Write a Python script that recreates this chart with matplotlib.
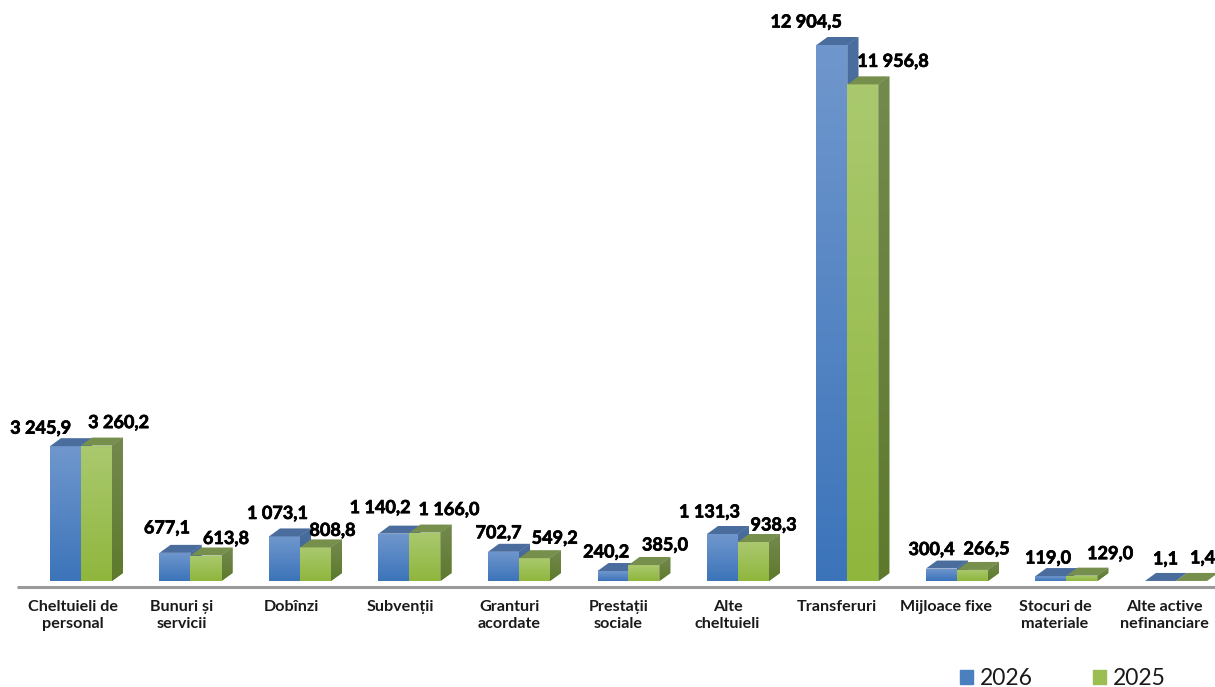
import numpy as np
import matplotlib.pyplot as plt
import matplotlib.patheffects as pe
from matplotlib.patches import Patch, Polygon

plt.rcParams["font.family"] = ["Lato", "DejaVu Sans"]

# -----------------------------
# Data
# -----------------------------
categories = [
    "Cheltuieli de\npersonal", "Bunuri și\nservicii", "Dobînzi", "Subvenții",
    "Granturi\nacordate", "Prestații\nsociale", "Alte\ncheltuieli",
    "Transferuri", "Mijloace fixe", "Stocuri de\nmateriale",
    "Alte active\nnefinanciare",
]
values_2026 = [3245.9, 677.1, 1073.1, 1140.2, 702.7, 240.2, 1131.3, 12904.5, 300.4, 119.0, 1.1]
values_2025 = [3260.2, 613.8, 808.8, 1166.0, 549.2, 385.0, 938.3, 11956.8, 266.5, 129.0, 1.4]

# label offsets from the top centre of each bar, in pixels
offsets_2026 = [(-25, 18), (-8, 25), (-7, 23), (-14, 26), (-5, 19), (-7, 19), (-13, 22),
                (-26, 23), (-10, 19), (-3, 18), (5, 22)]
offsets_2025 = [(22, 23), (20, 17), (17, 17), (24, 23), (20, 20), (21, 20), (20, 17),
                (30, 23), (14, 21), (28, 22), (11, 23)]


def money(v):
    return f"{v:,.1f}".replace(",", " ").replace(".", ",")


# -----------------------------
# Scale: full figure axes, zero line at pixel row 581
# -----------------------------
px_x = 109.5
px_y = 536 / 12904.5
bar_w = 31 / px_x
depth_x = 11 / px_x
depth_y = 8 / px_y

fig = plt.figure(figsize=(12.15, 6.87), dpi=100)
ax = fig.add_axes([0, 0, 1, 1])
ax.axis("off")

heavy = [pe.withStroke(linewidth=0.5, foreground="black")]


def gradient(poly, top, bottom, x0, x1, y1):
    grad = np.linspace(0, 1, 64)[:, None, None]
    img = (1 - grad) * np.array(top)[None, None, :] + grad * np.array(bottom)[None, None, :]
    im = ax.imshow(img, extent=[x0, x1, 0, y1], aspect="auto", zorder=2, interpolation="bilinear")
    # solid face under the image so the clip edge leaves no white seam
    patch = Polygon(poly, closed=True, fc=(np.array(top) + np.array(bottom)) / 2, ec="none", zorder=2)
    ax.add_patch(patch)
    im.set_clip_path(patch)
    patch.set_zorder(im.get_zorder() - 0.01)


def rgb(h):
    return [int(h[i:i + 2], 16) / 255 for i in (1, 3, 5)]


def bar3d(left, v, front, side, roof, z):
    right = left + bar_w
    # side face
    gradient([(right, 0), (right + depth_x, depth_y), (right + depth_x, v + depth_y), (right, v)],
             rgb(side[0]), rgb(side[1]), right, right + depth_x, v + depth_y)
    # front face
    if v > 20:
        gradient([(left, 0), (right, 0), (right, v), (left, v)],
                 rgb(front[0]), rgb(front[1]), left, right, v)
    # top face
    ax.add_patch(Polygon([(left, v), (right, v), (right + depth_x, v + depth_y), (left + depth_x, v + depth_y)],
                         closed=True, fc=roof, ec="none", zorder=2))


for i in range(len(categories)):
    bar3d(i - bar_w, values_2026[i], ("#7097cd", "#3c74ba"), ("#4a6e9f", "#3a5f92"), "#4a6d9e", 2)
    bar3d(i, values_2025[i], ("#aac96f", "#90b63d"), ("#74894e", "#5d7a2c"), "#768f4c", 2)

    ax.annotate(money(values_2026[i]), (i - bar_w / 2, values_2026[i]), xytext=offsets_2026[i],
                textcoords="offset pixels", ha="center", va="center",
                fontsize=13, fontweight="bold", color="black", zorder=5, path_effects=heavy)
    ax.annotate(money(values_2025[i]), (i + bar_w / 2, values_2025[i]), xytext=offsets_2025[i],
                textcoords="offset pixels", ha="center", va="center",
                fontsize=13, fontweight="bold", color="black", zorder=5, path_effects=heavy)
    ax.annotate(categories[i], (i, 0), xytext=(-8 - 0.4 * i, -19), textcoords="offset pixels",
                ha="center", va="top", fontsize=11.6, fontweight="bold", color="#1a1a1a",
                linespacing=1.3)

# baseline
ax.plot([-64 / px_x, 1134 / px_x], [-6 / px_y, -6 / px_y], color="#9a9a9a", lw=2.2, zorder=1,
        solid_capstyle="butt")

ax.set_xlim(-81 / px_x, 1134 / px_x)
ax.set_ylim(-106 / px_y, 581 / px_y)

handles = [Patch(color="#4a7fc0", label="2026"), Patch(color="#9bbe52", label="2025")]
ax.legend(handles=handles, ncol=2, frameon=False, fontsize=16.5,
          loc="lower left", bbox_to_anchor=(944 / 1215, -18 / 687),
          handlelength=0.56, handleheight=0.56, handletextpad=0.3, columnspacing=2.65,
          labelcolor="#1a1a1a", borderpad=0.2)

plt.savefig("out.png", dpi=100)
plt.close()
